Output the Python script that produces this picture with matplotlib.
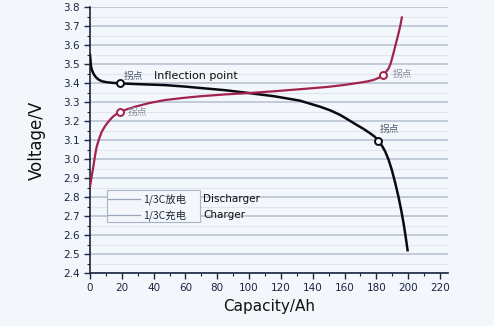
import matplotlib
matplotlib.use("Agg")
import matplotlib.pyplot as plt
import numpy as np
from matplotlib.patches import Rectangle

plt.rcParams['font.family'] = ['DejaVu Sans', 'Noto Sans CJK SC']

# Discharge curve (1/3C)
dis_x = [0, 0.3, 0.6, 1.0, 1.5, 2.1, 3.0, 4.0, 5.2, 6.5, 8.0, 10.5, 14, 18.9, 30, 47, 60, 69, 85, 100,
         116, 132, 144.7, 151, 157.2, 162, 167.7, 172, 176.1, 179, 181.3, 183.5, 185.5, 187.7, 189.7,
         191.8, 193.9, 195.6, 197.1, 198.4, 199.6]
dis_y = [3.547, 3.52, 3.49, 3.475, 3.462, 3.451, 3.438, 3.428, 3.419, 3.413, 3.408, 3.404, 3.401, 3.398,
         3.394, 3.389, 3.381, 3.374, 3.362, 3.347, 3.33, 3.307, 3.275, 3.256, 3.232, 3.208, 3.179, 3.158,
         3.135, 3.117, 3.096, 3.07, 3.04, 2.995, 2.942, 2.875, 2.80, 2.73, 2.66, 2.59, 2.52]

# Charge curve (1/3C)
chg_x = [0, 1.0, 2.1, 3.1, 4.2, 5.8, 7.4, 9.4, 11.5, 13.6, 15.7, 18.9, 23, 28.3, 37, 47, 58, 69, 85, 100,
         118, 136, 150, 160, 169.8, 174, 178.2, 181.5, 184, 186, 187.7, 189, 190.1, 191.2, 192.3, 193.1,
         193.9, 195, 196]
chg_y = [2.854, 2.905, 2.96, 3.015, 3.065, 3.108, 3.144, 3.172, 3.196, 3.216, 3.232, 3.246, 3.261, 3.275,
         3.294, 3.31, 3.321, 3.33, 3.34, 3.347, 3.358, 3.37, 3.38, 3.39, 3.402, 3.408, 3.416, 3.427, 3.442,
         3.458, 3.477, 3.503, 3.538, 3.572, 3.609, 3.635, 3.661, 3.70, 3.745]

# Inflection points
dis_pts_x = [18.9, 181.3]
dis_pts_y = [3.398, 3.096]
chg_pts_x = [18.9, 184]
chg_pts_y = [3.246, 3.442]

legend_labels = ['1/3C放电', '1/3C充电']
legend_en = ['Discharger', 'Charger']

bg = '#f3f7fc'
fig = plt.figure(figsize=(4.94, 3.26), dpi=100, facecolor=bg)
ax = fig.add_axes([90/494, 1-273/326, (448-90)/494, (273-7)/326])
ax.set_facecolor(bg)

ax.set_xlim(0, 225)
ax.set_ylim(2.4, 3.8)
ax.set_xticks(np.arange(0, 221, 20))
ax.set_xticks(np.arange(0, 221, 10), minor=True)
ax.set_yticks(np.arange(2.4, 3.81, 0.1))
ax.set_yticks(np.arange(2.4, 3.81, 0.05), minor=True)
ax.set_yticklabels([f'{v:.1f}' for v in np.arange(2.4, 3.81, 0.1)])

ax.grid(axis='y', which='major', color='#b9c3d3', linewidth=1.2)
ax.grid(axis='y', which='minor', color='#dfe6f0', linewidth=0.8)
ax.set_axisbelow(True)

navy = '#1c2540'
for s in ['top', 'right']:
    ax.spines[s].set_visible(False)
ax.spines['left'].set_color(navy)
ax.spines['bottom'].set_color(navy)
ax.spines['left'].set_linewidth(1.2)
ax.spines['bottom'].set_linewidth(1.2)
ax.tick_params(axis='both', which='major', direction='out', length=4, width=1.0, color=navy,
               labelsize=7.5, labelcolor='#1c2540')
ax.tick_params(axis='both', which='minor', direction='out', length=2, width=0.8, color=navy)

ax.plot(dis_x, dis_y, color='#0a0a12', linewidth=1.8, zorder=3, solid_joinstyle='round')
ax.plot(chg_x, chg_y, color='#a3224d', linewidth=1.6, zorder=3, solid_joinstyle='round')
ax.plot(dis_pts_x, dis_pts_y, 'o', markersize=5, markerfacecolor='white', markeredgecolor='#0a0a12',
        markeredgewidth=1.4, zorder=4)
ax.plot(chg_pts_x, chg_pts_y, 'o', markersize=5, markerfacecolor='white', markeredgecolor='#a3224d',
        markeredgewidth=1.4, zorder=4)

cjk = ['Noto Sans CJK SC', 'DejaVu Sans']
ax.text(21.5, 3.41, '拐点', fontsize=7, color='#505868', family=cjk, va='bottom')
ax.text(40, 3.41, 'Inflection point', fontsize=8, color='#111111', va='bottom')
ax.text(24, 3.245, '拐点', fontsize=7, color='#8a8a98', family=cjk, va='center')
ax.text(190, 3.45, '拐点', fontsize=7, color='#8a8a98', family=cjk, va='center')
ax.text(182, 3.13, '拐点', fontsize=7, color='#505868', family=cjk, va='bottom')

ax.set_xlabel('Capacity/Ah', fontsize=11, color='#111111', labelpad=4)
ax.set_ylabel('Voltage/V', fontsize=12, color='#111111', labelpad=12)

# Manual legend
x0 = (107-90)/1.59
x1 = (200-90)/1.59
y_top = 3.8-(190-7)/190
y_bot = 3.8-(222-7)/190
ax.add_patch(Rectangle((x0, y_bot), x1-x0, y_top-y_bot, facecolor=bg, edgecolor='#aab4c6',
                       linewidth=0.8, zorder=5))
rows = [3.8-(199-7)/190, 3.8-(215-7)/190]
for i, yy in enumerate(rows):
    ax.plot([x0+0.5, (140-90)/1.59], [yy, yy], color='#9aa6ba', linewidth=0.9, zorder=6)
    ax.text((143-90)/1.59, yy, legend_labels[i], fontsize=7.5, color='#222838', family=cjk,
            va='center', ha='left', zorder=6)
    ax.text((203-90)/1.59, yy, legend_en[i], fontsize=7.5, color='#111111', va='center',
            ha='left', zorder=6)

fig.savefig('out.png', dpi=100, facecolor=bg)
